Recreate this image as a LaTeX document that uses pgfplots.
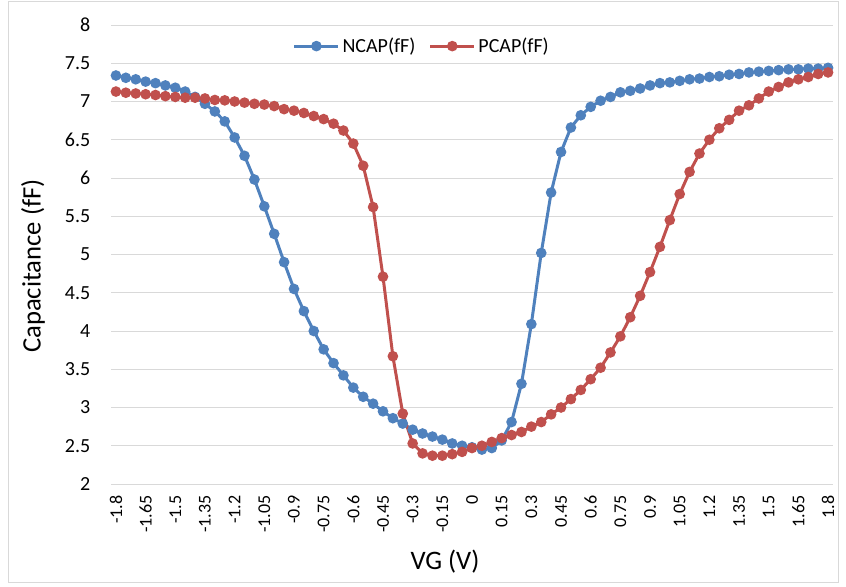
\documentclass[border=0pt]{standalone}
\usepackage{pgfplots}
\pgfplotsset{compat=1.18}
\usepackage{fontspec}
\setmainfont{Carlito}
\definecolor{nblue}{HTML}{4F81BD}
\definecolor{pred}{HTML}{C0504D}
\definecolor{gridc}{HTML}{D9D9D9}
\begin{document}
\begin{tikzpicture}
\path (0,0) rectangle (634.5pt,439.5pt);
\draw[gridc, line width=0.75pt] (6pt,3pt) rectangle (628.5pt,438pt);
\begin{axis}[
  at={(83.25pt,76.5pt)}, anchor=south west,
  scale only axis, width=541.5pt, height=344.25pt,
  xmin=-1.825, xmax=1.825, ymin=2, ymax=8,
  ytick={2,2.5,...,8},
  xtick={-1.8,-1.65,-1.5,-1.35,-1.2,-1.05,-0.9,-0.75,-0.6,-0.45,-0.3,-0.15,0,0.15,0.3,0.45,0.6,0.75,0.9,1.05,1.2,1.35,1.5,1.65,1.8},
  xticklabels={-1.8,-1.65,-1.5,-1.35,-1.2,-1.05,-0.9,-0.75,-0.6,-0.45,-0.3,-0.15,0,0.15,0.3,0.45,0.6,0.75,0.9,1.05,1.2,1.35,1.5,1.65,1.8},
  /pgf/number format/assume math mode=true,
  axis line style={draw=none},
  major tick length=0pt,
  ymajorgrids, grid style={gridc, line width=0.75pt},
  yticklabel style={font=\fontsize{15}{17}\selectfont, anchor=east, xshift=-12pt},
  xticklabel style={font=\fontsize{13.5}{15}\selectfont, rotate=90, anchor=east, yshift=0pt, xshift=-5pt},
  ylabel={Capacitance (fF)},
  xlabel={VG (V)},
  ylabel style={font=\fontsize{20}{24}\selectfont, at={(axis description cs:-0.108,0.475)}, anchor=center, rotate=0},
  xlabel style={font=\fontsize{20}{24}\selectfont, at={(axis description cs:0.4626,-0.17)}, anchor=center},
  legend columns=2,
  legend style={draw=none, fill=none, at={(axis description cs:0.431,0.954)}, anchor=center,
    font=\fontsize{15}{18}\selectfont, /tikz/every even column/.append style={column sep=8pt}},
  legend image code/.code={\draw[mark repeat=2,mark phase=2,#1] plot coordinates {(0pt,0pt) (16.5pt,0pt) (33pt,0pt)};},
  every axis plot/.append style={line width=2.25pt, mark=*, mark size=2.8pt, mark options={solid}},
]
\addplot[color=nblue] table {
x y
-1.8 7.34
-1.75 7.31
-1.7 7.29
-1.65 7.26
-1.6 7.24
-1.55 7.21
-1.5 7.18
-1.45 7.13
-1.4 7.06
-1.35 6.97
-1.3 6.87
-1.25 6.74
-1.2 6.53
-1.15 6.29
-1.1 5.98
-1.05 5.63
-1.0 5.27
-0.95 4.90
-0.9 4.55
-0.85 4.26
-0.8 4.00
-0.75 3.76
-0.7 3.58
-0.65 3.42
-0.6 3.26
-0.55 3.14
-0.5 3.05
-0.45 2.95
-0.4 2.86
-0.35 2.79
-0.3 2.71
-0.25 2.66
-0.2 2.62
-0.15 2.58
-0.1 2.53
-0.05 2.50
0 2.48
0.05 2.45
0.1 2.47
0.15 2.57
0.2 2.81
0.25 3.31
0.3 4.09
0.35 5.02
0.4 5.81
0.45 6.34
0.5 6.66
0.55 6.82
0.6 6.93
0.65 7.01
0.7 7.06
0.75 7.12
0.8 7.14
0.85 7.17
0.9 7.21
0.95 7.24
1.0 7.25
1.05 7.27
1.1 7.29
1.15 7.30
1.2 7.32
1.25 7.33
1.3 7.35
1.35 7.36
1.4 7.38
1.45 7.39
1.5 7.40
1.55 7.41
1.6 7.42
1.65 7.42
1.7 7.43
1.75 7.43
1.8 7.44
};
\addlegendentry{NCAP(fF)}
\addplot[color=pred] table {
x y
-1.8 7.13
-1.75 7.115
-1.7 7.105
-1.65 7.095
-1.6 7.085
-1.55 7.07
-1.5 7.06
-1.45 7.05
-1.4 7.05
-1.35 7.04
-1.3 7.02
-1.25 7.015
-1.2 7.00
-1.15 6.985
-1.1 6.97
-1.05 6.96
-1.0 6.94
-0.95 6.90
-0.9 6.88
-0.85 6.85
-0.8 6.81
-0.75 6.77
-0.7 6.71
-0.65 6.62
-0.6 6.45
-0.55 6.16
-0.5 5.62
-0.45 4.71
-0.4 3.67
-0.35 2.92
-0.3 2.53
-0.25 2.40
-0.2 2.37
-0.15 2.37
-0.1 2.39
-0.05 2.42
0 2.47
0.05 2.50
0.1 2.55
0.15 2.60
0.2 2.64
0.25 2.68
0.3 2.75
0.35 2.81
0.4 2.91
0.45 3.00
0.5 3.11
0.55 3.23
0.6 3.37
0.65 3.52
0.7 3.72
0.75 3.93
0.8 4.18
0.85 4.46
0.9 4.77
0.95 5.10
1.0 5.45
1.05 5.79
1.1 6.08
1.15 6.32
1.2 6.50
1.25 6.65
1.3 6.76
1.35 6.88
1.4 6.95
1.45 7.04
1.5 7.13
1.55 7.19
1.6 7.25
1.65 7.29
1.7 7.32
1.75 7.36
1.8 7.38
};
\addlegendentry{PCAP(fF)}
\end{axis}
\end{tikzpicture}
\end{document}
